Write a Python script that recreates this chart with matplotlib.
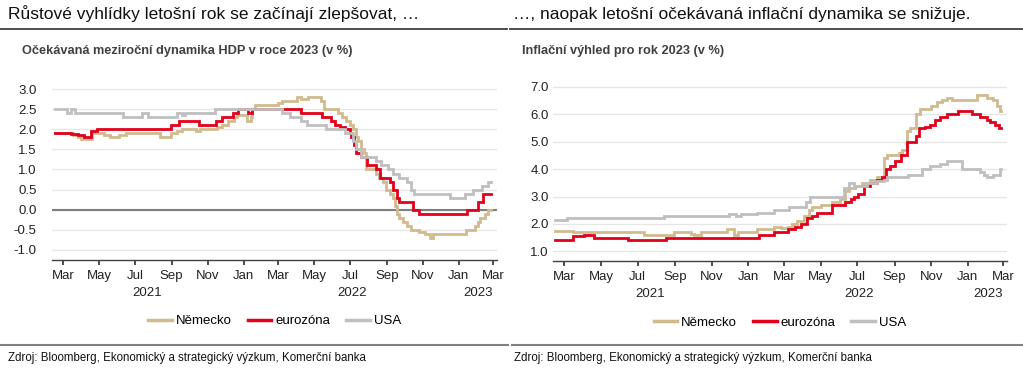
import matplotlib
matplotlib.use("Agg")
import matplotlib.pyplot as plt
import matplotlib.dates as mdates
from matplotlib.lines import Line2D
import pandas as pd

plt.rcParams['font.family'] = ['Liberation Sans', 'DejaVu Sans']

# ---------------- data: GDP outlook 2023 ----------------
gdp_de_dates = ["2021-02-15","2021-03-17","2021-03-26","2021-04-01","2021-04-19","2021-05-09","2021-05-19",
                "2021-06-04","2021-06-16","2021-08-13","2021-08-31","2021-09-10","2021-09-18","2021-10-12",
                "2021-10-19","2021-11-17","2021-11-26","2021-12-05","2021-12-15","2021-12-21","2022-01-07",
                "2022-01-13","2022-01-16","2022-01-20","2022-02-28","2022-03-08","2022-04-01","2022-04-09",
                "2022-04-20","2022-05-12","2022-05-17","2022-06-10","2022-06-17","2022-06-24","2022-07-01",
                "2022-07-06","2022-07-10","2022-07-14","2022-07-20","2022-07-25","2022-07-28","2022-08-13",
                "2022-08-19","2022-08-25","2022-08-31","2022-09-06","2022-09-11","2022-09-15","2022-09-18",
                "2022-09-22","2022-09-28","2022-10-05","2022-10-12","2022-10-25","2022-11-05","2022-11-13",
                "2022-11-18","2023-01-13","2023-01-28","2023-02-02","2023-02-07","2023-02-14","2023-02-19",
                "2023-02-24"]
gdp_de = [1.9, 1.85, 1.8, 1.75, 1.9, 1.85, 1.8,
          1.85, 1.9, 1.8, 1.9, 1.95, 2.0, 1.95,
          2.0, 2.05, 2.1, 2.2, 2.3, 2.35, 2.2,
          2.3, 2.5, 2.6, 2.65, 2.7, 2.8, 2.75,
          2.8, 2.7, 2.5, 2.4, 2.3, 2.2, 2.1,
          2.0, 1.8, 1.7, 1.5, 1.4, 1.0, 0.9,
          0.8, 0.7, 0.5, 0.4, 0.3, 0.1, -0.1,
          -0.2, -0.3, -0.4, -0.5, -0.55, -0.6, -0.7,
          -0.6, -0.5, -0.4, -0.3, -0.2, -0.1, 0.0,
          0.0]

gdp_ez_dates = ["2021-02-15","2021-03-15","2021-03-26","2021-04-06","2021-04-18","2021-04-27","2021-08-31",
                "2021-09-13","2021-10-18","2021-11-15","2021-11-25","2021-12-14","2021-12-23","2022-01-09",
                "2022-01-16","2022-04-09","2022-05-14","2022-05-29","2022-06-05","2022-06-14","2022-06-22",
                "2022-06-30","2022-07-03","2022-07-08","2022-07-11","2022-07-20","2022-07-30","2022-08-14",
                "2022-08-20","2022-09-06","2022-09-11","2022-09-18","2022-09-22","2022-10-16","2022-10-26",
                "2023-01-15","2023-02-03","2023-02-12","2023-02-24"]
gdp_ez = [1.9, 1.88, 1.85, 1.8, 1.95, 2.0, 2.1,
          2.2, 2.1, 2.2, 2.3, 2.4, 2.5, 2.4,
          2.5, 2.4, 2.3, 2.2, 2.1, 2.05, 2.0,
          1.9, 1.8, 1.6, 1.4, 1.3, 1.1, 1.0,
          0.8, 0.7, 0.5, 0.3, 0.2, 0.0, -0.1,
          0.0, 0.2, 0.4, 0.4]

gdp_us_dates = ["2021-02-15","2021-03-07","2021-03-15","2021-03-21","2021-06-11","2021-07-12","2021-07-23",
                "2021-09-10","2021-09-18","2021-09-24","2021-11-13","2022-03-07","2022-03-21","2022-04-09",
                "2022-04-18","2022-05-21","2022-06-22","2022-07-06","2022-07-11","2022-07-20","2022-08-13",
                "2022-08-23","2022-09-03","2022-09-11","2022-09-22","2022-10-05","2022-10-12","2022-10-17",
                "2022-12-17","2023-01-12","2023-01-25","2023-02-09","2023-02-20","2023-02-24"]
gdp_us = [2.5, 2.4, 2.5, 2.4, 2.3, 2.4, 2.3,
          2.4, 2.35, 2.4, 2.5, 2.4, 2.3, 2.2,
          2.1, 2.0, 1.9, 1.7, 1.5, 1.3, 1.2,
          1.1, 1.0, 0.9, 0.8, 0.7, 0.5, 0.4,
          0.3, 0.4, 0.5, 0.6, 0.7, 0.7]

# ---------------- data: inflation outlook 2023 ----------------
inf_de_dates = ["2021-02-14","2021-03-15","2021-07-12","2021-08-31","2021-09-27","2021-10-03","2021-10-14",
                "2021-11-27","2021-12-08","2021-12-14","2022-01-16","2022-02-12","2022-02-24","2022-03-07",
                "2022-03-15","2022-03-23","2022-04-03","2022-04-12","2022-04-17","2022-05-01","2022-05-20",
                "2022-06-03","2022-06-11","2022-06-17","2022-06-28","2022-07-09","2022-07-23","2022-08-03",
                "2022-08-14","2022-08-19","2022-09-08","2022-09-13","2022-09-22","2022-09-27","2022-10-06",
                "2022-10-14","2022-10-31","2022-11-10","2022-11-19","2022-11-27","2022-12-05","2023-01-16",
                "2023-02-01","2023-02-12","2023-02-18","2023-02-24","2023-02-25"]
inf_de = [1.75, 1.7, 1.6, 1.7, 1.65, 1.6, 1.7,
          1.8, 1.6, 1.7, 1.8, 1.9, 1.85, 1.9,
          2.0, 2.1, 2.3, 2.5, 2.6, 2.7, 2.8,
          2.9, 3.2, 3.3, 3.4, 3.5, 3.6, 3.7,
          4.4, 4.5, 4.6, 4.7, 5.4, 5.5, 6.0,
          6.2, 6.3, 6.45, 6.5, 6.6, 6.5, 6.7,
          6.6, 6.5, 6.3, 6.1, 6.1]

inf_ez_dates = ["2021-02-14","2021-03-15","2021-04-03","2021-04-20","2021-06-14","2021-08-17","2022-01-19",
                "2022-02-12","2022-03-07","2022-03-20","2022-03-29","2022-04-09","2022-04-17","2022-04-25",
                "2022-05-20","2022-06-11","2022-06-20","2022-06-25","2022-07-03","2022-07-12","2022-07-23",
                "2022-08-03","2022-08-11","2022-08-17","2022-08-25","2022-09-02","2022-09-11","2022-09-22",
                "2022-10-06","2022-10-11","2022-10-22","2022-10-30","2022-11-08","2022-11-16","2022-11-27",
                "2022-12-16","2023-01-08","2023-01-21","2023-02-01","2023-02-07","2023-02-15","2023-02-22",
                "2023-02-25"]
inf_ez = [1.4, 1.55, 1.6, 1.5, 1.4, 1.5, 1.6,
          1.7, 1.8, 1.9, 2.0, 2.2, 2.3, 2.4,
          2.7, 2.8, 2.9, 3.0, 3.1, 3.4, 3.5,
          3.6, 3.7, 4.0, 4.1, 4.3, 4.5, 5.0,
          5.2, 5.5, 5.55, 5.6, 5.8, 5.9, 6.0,
          6.1, 6.0, 5.9, 5.8, 5.7, 5.6, 5.5,
          5.5]

inf_us_dates = ["2021-02-14","2021-03-06","2021-08-14","2021-11-30","2021-12-11","2021-12-19","2022-01-16",
                "2022-02-12","2022-03-09","2022-04-06","2022-04-14","2022-06-09","2022-06-17","2022-06-25",
                "2022-07-17","2022-08-03","2022-08-14","2022-08-19","2022-09-24","2022-10-17","2022-10-30",
                "2022-11-16","2022-11-27","2022-12-22","2023-01-21","2023-01-27","2023-02-01","2023-02-12",
                "2023-02-24","2023-02-25"]
inf_us = [2.15, 2.2, 2.3, 2.35, 2.3, 2.35, 2.4,
          2.5, 2.6, 2.8, 3.0, 3.3, 3.5, 3.4,
          3.5, 3.55, 3.6, 3.7, 3.8, 4.0, 4.1,
          4.2, 4.3, 4.0, 3.9, 3.8, 3.7, 3.8,
          4.0, 4.0]

series_names = ["Německo", "eurozóna", "USA"]
month_labels = ["Mar", "May", "Jul", "Sep", "Nov", "Jan", "Mar", "May", "Jul", "Sep", "Nov", "Jan", "Mar"]
month_ticks = ["2021-03-01", "2021-05-01", "2021-07-01", "2021-09-01", "2021-11-01", "2022-01-01",
               "2022-03-01", "2022-05-01", "2022-07-01", "2022-09-01", "2022-11-01", "2023-01-01", "2023-03-01"]
year_labels = ["2021", "2022", "2023"]
year_pos = ["2021-07-21", "2022-07-04", "2023-02-03"]

titles = ["Růstové vyhlídky letošní rok se začínají zlepšovat, …",
          "…, naopak letošní očekávaná inflační dynamika se snižuje."]
subtitles = ["Očekávaná meziroční dynamika HDP v roce 2023 (v %)",
             "Inflační výhled pro rok 2023 (v %)"]
source = "Zdroj: Bloomberg, Ekonomický a strategický výzkum, Komerční banka"

colors = ["#D0BA8E", "#E2001A", "#BFBFBF"]

W, H = 1023, 370
fig = plt.figure(figsize=(W / 100, H / 100), dpi=100)


def fx(px):
    return px / W


def fy(py):
    return 1 - py / H


ax1 = fig.add_axes([fx(52), fy(260), fx(497 - 52), (260 - 85) / H])
ax2 = fig.add_axes([fx(553), fy(261), fx(1007 - 553), (261 - 84) / H])

panels = [
    (ax1, [(gdp_de_dates, gdp_de), (gdp_ez_dates, gdp_ez), (gdp_us_dates, gdp_us)],
     (-1.25, 3.1), [-1.0, -0.5, 0.0, 0.5, 1.0, 1.5, 2.0, 2.5, 3.0], 11),
    (ax2, [(inf_de_dates, inf_de), (inf_ez_dates, inf_ez), (inf_us_dates, inf_us)],
     (0.65, 7.1), [1.0, 2.0, 3.0, 4.0, 5.0, 6.0, 7.0], 3),
]

for ax, data, ylim, yticks, ypad in panels:
    for (d, v), c, name in zip(data, colors, series_names):
        ax.plot(pd.to_datetime(d), v, drawstyle="steps-post", color=c, lw=2.0, label=name,
                solid_joinstyle="miter")
    ax.set_ylim(*ylim)
    ax.set_yticks(yticks)
    ax.set_yticklabels([f"{t:.1f}" for t in yticks])
    ax.set_xlim(pd.Timestamp("2021-02-10"), pd.Timestamp("2023-03-07"))
    ax.grid(axis="y", color="#E6E6E6", lw=1)
    ax.set_axisbelow(True)
    for s in ["left", "right", "top"]:
        ax.spines[s].set_visible(False)
    ax.spines["bottom"].set_color("#404040")
    ax.spines["bottom"].set_linewidth(1.0)
    ax.tick_params(axis="y", length=0, pad=ypad, labelsize=9.5, labelcolor="#222222")
    ax.set_xticks(pd.to_datetime(month_ticks))
    ax.set_xticklabels(month_labels)
    ax.tick_params(axis="x", which="major", length=3.5, width=1.3, color="#404040",
                   pad=4, labelsize=9.5, labelcolor="#222222")
    ax.set_xticks(pd.to_datetime(["2022-01-01", "2023-01-01"]), minor=True)
    ax.tick_params(axis="x", which="minor", length=7, width=1.3, color="#404040")
    for yl, yp in zip(year_labels, year_pos):
        ax.annotate(yl, xy=(pd.Timestamp(yp), 0), xycoords=("data", "axes fraction"),
                    xytext=(0, -24), textcoords="offset points", ha="center", va="center",
                    fontsize=9.5, color="#222222", annotation_clip=False)
    leg = ax.legend(loc="center", bbox_to_anchor=(0.5, -0.35), ncol=3, frameon=False,
                    fontsize=9.5, handlelength=1.8, handletextpad=0.3, columnspacing=1.2)
    for h in leg.get_lines():
        h.set_linewidth(2.5)

ax1.axhline(0, color="#7F7F7F", lw=1.5, zorder=1.5)

# titles, rules and source
fig.text(fx(8), fy(14), titles[0], fontsize=12.5, va="center", ha="left", color="#111111")
fig.text(fx(513), fy(14), titles[1], fontsize=12.5, va="center", ha="left", color="#111111")
fig.text(fx(22), fy(51), subtitles[0], fontsize=9.2, fontweight="bold", va="center", ha="left",
         color="#404040")
fig.text(fx(522), fy(51), subtitles[1], fontsize=9.2, fontweight="bold", va="center", ha="left",
         color="#404040")
fig.add_artist(Line2D([fx(0), fx(507)], [fy(29), fy(29)], color="#404040", lw=1.3))
fig.add_artist(Line2D([fx(510), fx(1023)], [fy(29), fy(29)], color="#404040", lw=1.3))
fig.add_artist(Line2D([fx(0), fx(508)], [fy(345), fy(345)], color="#808080", lw=1.5))
fig.add_artist(Line2D([fx(512), fx(1023)], [fy(345), fy(345)], color="#808080", lw=1.5))
fig.text(fx(8), fy(358), source, fontsize=8.3, va="center", ha="left", color="#111111")
fig.text(fx(514), fy(358), source, fontsize=8.3, va="center", ha="left", color="#111111")

fig.savefig("out.png", dpi=100)
